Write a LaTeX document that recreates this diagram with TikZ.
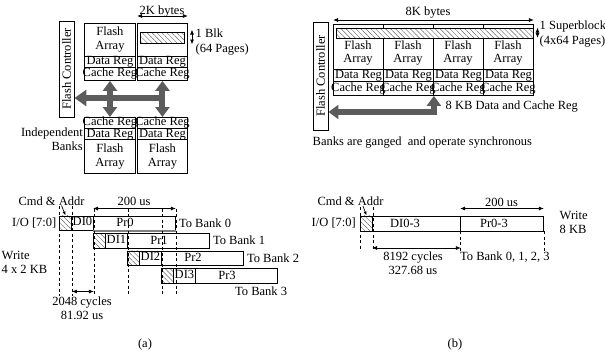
\documentclass[tikz,border=0pt]{standalone}
\usepackage{fontspec}
\setmainfont{Liberation Serif}
\usetikzlibrary{arrows.meta,patterns.meta,calc}
\definecolor{busgray}{RGB}{92,92,92}
\definecolor{hatchgray}{RGB}{105,105,105}
\newcommand\zw[1]{\makebox[0pt]{#1}}
\tikzset{
  cell/.style={draw, line width=0.9pt, inner sep=0pt, anchor=north west, text height=8pt, text depth=2.5pt},
  fcell/.style={draw, line width=0.9pt, inner sep=0pt, anchor=north west, align=center},
  hatchbox/.style={draw, line width=0.9pt, inner sep=0pt, anchor=north west, preaction={fill=white},
    pattern={Lines[angle=-45,distance=3.5pt,line width=0.45pt]}, pattern color=hatchgray},
  dim/.style={line width=0.8pt, {Latex[length=5pt,width=4pt]}-{Latex[length=5pt,width=4pt]}},
  pointer/.style={line width=0.7pt, -{Latex[length=4pt,width=3pt]}},
  bus/.style={line width=6pt, draw=busgray, {Triangle[length=10pt,width=14pt]}-{Triangle[length=10pt,width=14pt]}},
  busone/.style={line width=6pt, draw=busgray, {Triangle[length=12pt,width=16pt]}-},
  guide/.style={line width=0.8pt, dash pattern=on 3pt off 2.5pt},
  fcbox/.style={draw, line width=0.9pt, rotate=90, inner sep=0pt, minimum height=15pt},
  txt/.style={inner sep=0pt},
  twoline/.style={inner sep=0pt, align=left, font=\fontsize{12.5}{15}\selectfont},
}
\begin{document}
\begin{tikzpicture}[x=1pt, y=-1pt, font=\fontsize{12.5}{13.6}\selectfont]
\useasboundingbox (0,0) rectangle (605,351);

% ================= top left =================
\node[fcbox, minimum width=96pt] (fc1) at (66.5,69) {Flash Controller};

\node[fcell, minimum width=51pt, minimum height=33.3pt] (fa1) at (84,22.7) {\zw{Flash}\\\zw{Array}};
\node[cell, minimum width=51pt, minimum height=10.7pt] (dr1) at (84,56) {\zw{Data Reg}};
\node[cell, minimum width=51pt, minimum height=13.3pt] (cr1) at (84,66.7) {\zw{Cache Reg}};

\node[fcell, minimum width=50pt, minimum height=33.3pt] (fa2) at (137,22.7) {};
\node[hatchbox, minimum width=44pt, minimum height=11pt] (blk) at (140,32) {};
\node[cell, minimum width=50pt, minimum height=10.7pt] (dr2) at (137,56) {\zw{Data Reg}};
\node[cell, minimum width=50pt, minimum height=13.3pt] (cr2) at (137,66.7) {\zw{Cache Reg}};

\node[cell, minimum width=51pt, minimum height=11.3pt] (cr3) at (84,117) {\zw{Cache Reg}};
\node[cell, minimum width=51pt, minimum height=11pt] (dr3) at (84,128.3) {\zw{Data Reg}};
\node[fcell, minimum width=51pt, minimum height=34pt] (fa3) at (84,139.3) {\zw{Flash}\\\zw{Array}};

\node[cell, minimum width=50pt, minimum height=11.3pt] (cr4) at (137,117) {\zw{Cache Reg}};
\node[cell, minimum width=50pt, minimum height=11pt] (dr4) at (137,128.3) {\zw{Data Reg}};
\node[fcell, minimum width=50pt, minimum height=34pt] (fa4) at (137,139.3) {\zw{Flash}\\\zw{Array}};

\coordinate (y16) at (0,16);
\draw[dim] (fa2.north west |- y16) -- (fa2.north east |- y16);
\node[txt, anchor=base] (t2k) at (162,14) {2K bytes};
\coordinate (bk1) at (192,29.5);
\coordinate (bk2) at (192,44.5);
\draw[dim] (bk1) -- (bk2);
\node[twoline, anchor=west] (t1blk) at (195.5,42.5) {1 Blk\\(64 Pages)};

\draw[bus] (cr1.south) -- (cr3.north);
\draw[bus] (cr2.south) -- (cr4.north);
\coordinate (hy) at (0,98);
\draw[busone] (fc1.south |- hy) -- ($(cr2.south |- hy)+(3,0)$);

\node[txt, anchor=east, align=right] (ib) at (83,139.5) {Independent\\Banks};

% ================= top right =================
\node[fcbox, minimum width=108pt] (fc2) at (320.5,76) {Flash Controller};
\foreach \i in {0,...,3} {
  \pgfmathsetmacro\xc{333+50*\i}
  \node[fcell, minimum width=50pt, minimum height=45pt] (sfa\i) at (\xc,24) {};
  \node[txt, align=center] (sft\i) at (\xc+25,53) {Flash\\Array};
  \node[cell, minimum width=50pt, minimum height=12pt] (sdr\i) at (\xc,69) {\zw{Data Reg}};
  \node[cell, minimum width=50pt, minimum height=14pt] (scr\i) at (\xc,81) {\zw{Cache Reg}};
}
\node[hatchbox, minimum width=197pt, minimum height=9.5pt] (sblk) at (335.5,28) {};

\coordinate (y20) at (0,20);
\draw[dim] (sfa0.north west |- y20) -- (sfa3.north east |- y20);
\node[txt, anchor=base] (t8k) at (428,15.5) {8K bytes};
\coordinate (sb1) at (537.5,27.5);
\coordinate (sb2) at (537.5,38);
\draw[dim] (sb1) -- (sb2);
\node[twoline, anchor=west] (tsb) at (539.5,34) {1 Superblock\\(4x64 Pages)};

\coordinate (ly) at (0,112);
\draw[bus, line join=miter] (fc2.south |- ly) -| (scr1.south east);
\node[txt, anchor=west] (t8kb) at (445.5,107) {8 KB Data and Cache Reg};
\node[txt, anchor=west] (tgang) at (312.5,142.5) {Banks are ganged\ \ and operate synchronous};

% ================= bottom left (a) =================
\coordinate (gtop) at (0,206);
\coordinate (atop) at (0,208.5);
\coordinate (gbot) at (0,296);
\coordinate (y2048) at (0,291.5);

\foreach \i in {0,...,3} {
  \pgfmathsetmacro\xa{59+34*\i}
  \pgfmathsetmacro\ya{215.5+17.5*\i}
  \node[hatchbox, minimum width=12pt, minimum height=14.5pt] (h\i) at (\xa,\ya) {};
  \node[cell, minimum width=22pt, minimum height=14.5pt] (d\i) at (\xa+12,\ya) {\zw{DI\i}};
  \node[cell, minimum width=82pt, minimum height=14.5pt] (p\i) at (\xa+34,\ya) {};
  \node[txt] (pt\i) at (\xa+66,\ya+7.25) {Pr\i};
}
\draw[line width=2pt, draw=gray] (p0.south west) -- (p0.south east);

\node[txt, anchor=west] (tb0) at ([xshift=3pt]p0.east) {To Bank 0};
\node[txt, anchor=west] (tb1) at ([xshift=3pt]p1.east) {To Bank 1};
\node[txt, anchor=west] (tb2) at ([xshift=3pt]p2.east) {To Bank 2};
\node[txt, anchor=west] (tb3) at (235,291) {To Bank 3};

\draw[guide] (h0.west |- gtop) -- (h0.west |- gbot);
\draw[guide] (h0.east |- gtop) -- (h0.east |- gbot);
\draw[guide] (d0.east |- atop) -- (d0.east |- gbot);
\draw[guide] (d1.east |- atop) -- (d1.east |- gbot);
\draw[guide] (d2.east |- atop) -- (d2.east |- gbot);
\draw[guide] (p0.east |- atop) -- (p0.east |- gbot);

\draw[dim] (p0.west |- atop) -- (p0.east |- atop);
\node[txt] (t200a) at (134,201) {200 us};
\draw[dim] (h0.east |- y2048) -- (d0.east |- y2048);
\node[txt, align=center] (t2048) at (82,308.5) {2048 cycles\\81.92 us};

\node[txt] (cmda) at (51.5,201) {Cmd \& Addr};
\node[txt, anchor=east] (ioa) at (56.5,222.75) {I/O [7:0]};
\coordinate (cmdaa) at (61.5,205.5);
\draw[pointer] (cmdaa) -- (h0.north);
\node[txt, anchor=west, align=left] (wra) at (1.5,262.5) {Write\\4 x 2 KB};

% ================= bottom right (b) =================
\node[hatchbox, minimum width=12pt, minimum height=15pt] (hb) at (360,215.5) {};
\node[cell, minimum width=88pt, minimum height=15pt] (db) at (372,215.5) {};
\node[txt] (dbt) at (405,223) {DI0-3};
\node[cell, minimum width=83pt, minimum height=15pt] (pb) at (460,215.5) {};
\node[txt] (pbt) at (494,223) {Pr0-3};

\node[txt] (cmdb) at (350.5,201.5) {Cmd \& Addr};
\node[txt, anchor=east] (iob) at (356,223) {I/O [7:0]};
\coordinate (cmdba) at (363,206);
\draw[pointer] (cmdba) -- (hb.north);

\coordinate (gtopb) at (0,207);
\coordinate (gbotb) at (0,251);
\coordinate (gbotc) at (0,252);
\draw[guide] (hb.west |- gtopb) -- (hb.west |- gbotb);
\draw[guide] (hb.east |- gtopb) -- (hb.east |- gbotb);
\draw[guide] (pb.south west) -- (pb.west |- gbotb);
\draw[guide] (pb.south east) -- (pb.east |- gbotc);

\draw[dim] (pb.west |- atop) -- (pb.east |- atop);
\node[txt] (t200b) at (501.5,202) {200 us};
\coordinate (y248) at (0,248);
\draw[dim] (db.west |- y248) -- (db.east |- y248);
\node[txt, align=center] (t8192) at (413,263.5) {8192 cycles\\327.68 us};
\node[txt, anchor=west] (tball) at (460,257.5) {To Bank 0, 1, 2, 3};
\node[txt, anchor=west, align=left] (wrb) at (559.5,222.5) {Write\\8 KB};

\node[txt] (capa) at (145,344) {(a)};
\node[txt] (capb) at (455,344) {(b)};
\end{tikzpicture}
\end{document}
